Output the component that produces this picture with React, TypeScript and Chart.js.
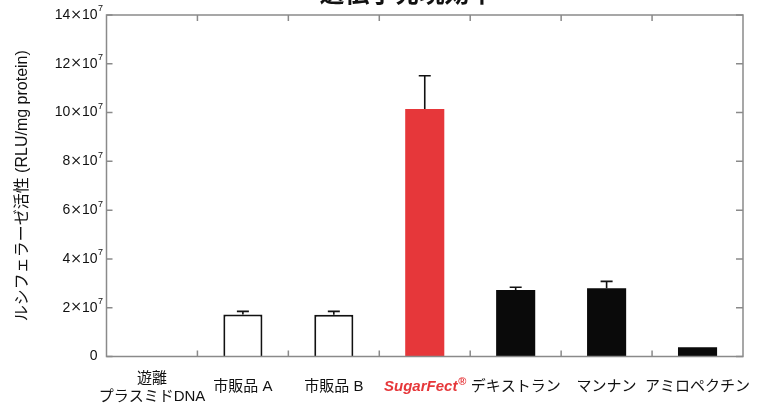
import { useEffect, useRef } from 'react';
import { Chart, registerables } from 'chart.js';

Chart.register(...registerables);

// ---- data ----
const chartTitle = '遺伝子発現効率';
const yAxisTitle = 'ルシフェラーゼ活性 (RLU/mg protein)';
const categories: string[][] = [
  ['遊離', 'プラスミドDNA'],
  ['市販品 A'],
  ['市販品 B'],
  ['SugarFect®'],
  ['デキストラン'],
  ['マンナン'],
  ['アミロペクチン'],
];
// luciferase activity, in units of 10^7 RLU/mg protein
const activity = [0, 1.72, 1.71, 10.15, 2.73, 2.8, 0.38];
const errorPlus = [0, 0.13, 0.14, 1.36, 0.11, 0.28, 0];
const yMax = 14;
const yStep = 2;
const yExponent = '7';
const highlightIndex = 3;

// ---- styles ----
const RED = '#e6373a';
const FONT = '"Liberation Sans", "Noto Sans CJK JP", "DejaVu Sans", sans-serif';
const CJK = '"Noto Sans CJK JP", "Liberation Sans", sans-serif';
const barFill = categories.map((_, i) => (i === highlightIndex ? RED : i < highlightIndex ? '#ffffff' : '#0a0a0a'));
const barBorderWidth = categories.map((_, i) => (i < highlightIndex ? 2 : 0));

const decor = {
  id: 'decor',
  afterDatasetsDraw(chart: any) {
    const { ctx, chartArea: a, scales } = chart;
    const x = scales.x;
    const y = scales.y;
    const meta = chart.getDatasetMeta(0);
    ctx.save();

    // error bars
    ctx.strokeStyle = '#111';
    ctx.lineWidth = 1.6;
    errorPlus.forEach((e, i) => {
      if (!e) return;
      const bx = meta.data[i].x;
      const y0 = y.getPixelForValue(activity[i]);
      const y1 = y.getPixelForValue(activity[i] + e);
      ctx.beginPath();
      ctx.moveTo(bx, y0);
      ctx.lineTo(bx, y1);
      ctx.moveTo(bx - 6, y1);
      ctx.lineTo(bx + 6, y1);
      ctx.stroke();
    });

    // frame
    ctx.strokeStyle = '#8a8a8a';
    ctx.lineWidth = 1.5;
    ctx.strokeRect(a.left, a.top, a.right - a.left, a.bottom - a.top);

    // inward y ticks on left and right
    ctx.beginPath();
    y.ticks.forEach((t: any) => {
      const py = y.getPixelForValue(t.value);
      ctx.moveTo(a.left, py);
      ctx.lineTo(a.left + 6, py);
      ctx.moveTo(a.right, py);
      ctx.lineTo(a.right - 7, py);
    });
    // inward category boundary ticks on top and bottom
    for (let i = 1; i < categories.length; i++) {
      const px = (x.getPixelForValue(i - 1) + x.getPixelForValue(i)) / 2;
      ctx.moveTo(px, a.top);
      ctx.lineTo(px, a.top + 6);
      ctx.moveTo(px, a.bottom);
      ctx.lineTo(px, a.bottom - 6);
    }
    ctx.stroke();

    // y tick labels: "n×10" with a raised exponent
    ctx.fillStyle = '#111';
    ctx.textBaseline = 'middle';
    const numFont = `14px ${FONT}`;
    const timesFont = `14px "DejaVu Sans", ${FONT}`;
    const supFont = `9px ${FONT}`;
    y.ticks.forEach((t: any) => {
      const py = y.getPixelForValue(t.value);
      const right = a.left - 9;
      ctx.textAlign = 'left';
      if (Number(t.value) === 0) {
        ctx.font = numFont;
        const w = ctx.measureText('0').width;
        ctx.fillText('0', right - w, py);
        return;
      }
      const parts = [
        { s: String(t.value), f: numFont },
        { s: '×', f: timesFont },
        { s: '10', f: numFont },
      ];
      let total = 0;
      parts.forEach((p) => {
        ctx.font = p.f;
        total += ctx.measureText(p.s).width;
      });
      let cx = right - total;
      parts.forEach((p) => {
        ctx.font = p.f;
        ctx.fillText(p.s, cx, py);
        cx += ctx.measureText(p.s).width;
      });
      ctx.font = supFont;
      ctx.fillText(yExponent, cx + 0.5, py - 6);
    });

    // category labels
    ctx.textBaseline = 'middle';
    categories.forEach((lines, i) => {
      const cx = x.getPixelForValue(i);
      if (i === highlightIndex) {
        const main = lines[0].replace('®', '');
        const mainFont = `italic bold 15px ${FONT}`;
        const supF = `bold 11px ${FONT}`;
        ctx.font = mainFont;
        const w1 = ctx.measureText(main).width;
        ctx.font = supF;
        const w2 = lines[0].includes('®') ? ctx.measureText('®').width : 0;
        const left = cx - (w1 + w2) / 2;
        ctx.fillStyle = RED;
        ctx.textAlign = 'left';
        ctx.font = mainFont;
        ctx.fillText(main, left, a.bottom + 30);
        if (w2) {
          ctx.font = supF;
          ctx.fillText('®', left + w1 + 1, a.bottom + 25);
        }
        return;
      }
      ctx.fillStyle = '#111';
      ctx.textAlign = 'center';
      ctx.font = `15px ${FONT}`;
      if (lines.length === 1) {
        ctx.fillText(lines[0], cx, a.bottom + 30);
      } else {
        lines.forEach((ln, k) => ctx.fillText(ln, cx, a.bottom + 22 + k * 18));
      }
    });

    // chart title (cropped by the top of the page, as in the reference)
    ctx.fillStyle = '#111';
    ctx.textAlign = 'center';
    ctx.font = `bold 25px ${CJK}`;
    ctx.fillText(chartTitle, 407, 16);

    ctx.restore();
  },
};

export default function App() {
  const ref = useRef<HTMLCanvasElement>(null);
  useEffect(() => {
    Chart.defaults.font.family = FONT;
    const chart = new Chart(ref.current as HTMLCanvasElement, {
      type: 'bar',
      data: {
        labels: categories.map((c) => c.join(' ')),
        datasets: [
          {
            data: activity,
            backgroundColor: barFill,
            borderColor: '#111',
            borderWidth: barBorderWidth,
            borderSkipped: 'bottom',
            barPercentage: 0.43,
            categoryPercentage: 1,
          },
        ],
      },
      options: {
        animation: false,
        responsive: true,
        maintainAspectRatio: false,
        layout: { padding: { top: 39, right: 20, bottom: 47.5, left: 0 } },
        plugins: { legend: { display: false }, tooltip: { enabled: false }, title: { display: false } },
        scales: {
          x: { display: false, offset: true },
          y: {
            min: 0,
            max: yMax,
            ticks: { stepSize: yStep, display: false },
            grid: { display: false, drawTicks: false },
            border: { display: false },
            title: {
              display: true,
              text: yAxisTitle,
              color: '#111',
              font: { size: 16 },
              padding: { top: 13, bottom: 0 },
            },
            afterFit: (s: any) => {
              s.width = 106.5;
            },
          },
        },
      },
      plugins: [decor],
    });
    return () => chart.destroy();
  }, []);
  return (
    <div style={{ position: 'fixed', left: 0, top: -24, width: 763, height: 428, background: '#fff' }}>
      <canvas ref={ref} />
    </div>
  );
}
